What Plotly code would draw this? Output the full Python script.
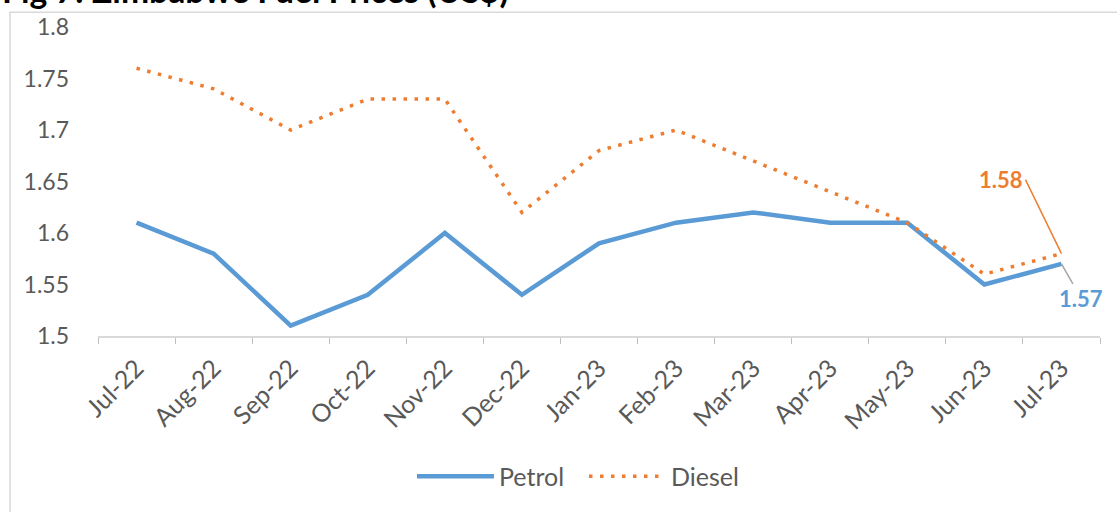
import plotly.graph_objects as go

months = ["Jul-22", "Aug-22", "Sep-22", "Oct-22", "Nov-22", "Dec-22", "Jan-23",
          "Feb-23", "Mar-23", "Apr-23", "May-23", "Jun-23", "Jul-23"]
petrol = [1.61, 1.58, 1.51, 1.54, 1.60, 1.54, 1.59, 1.61, 1.62, 1.61, 1.61, 1.55, 1.57]
diesel = [1.76, 1.74, 1.70, 1.73, 1.73, 1.62, 1.68, 1.70, 1.67, 1.64, 1.61, 1.56, 1.58]
y_ticks = [1.5, 1.55, 1.6, 1.65, 1.7, 1.75, 1.8]
y_tick_text = ["1.5", "1.55", "1.6", "1.65", "1.7", "1.75", "1.8"]
title_text = "Fig 7: Zimbabwe Fuel Prices (US$)"

BLUE = "#5B9BD5"
ORANGE = "#ED7D31"
FONT = "Lato"

fig = go.Figure()
fig.add_trace(go.Scatter(x=months, y=petrol, name="Petrol", mode="lines",
                         line=dict(color=BLUE, width=4.5)))
fig.add_trace(go.Scatter(x=months, y=diesel, name="Diesel", mode="lines",
                         line=dict(color=ORANGE, width=3.5, dash="3.5px,7.5px")))

# data labels with leader lines
fig.add_annotation(x=months[-1], y=diesel[-1], text="<b>1.58</b>", showarrow=True,
                   arrowhead=0, arrowwidth=1.5, arrowcolor=ORANGE, ax=-36, ay=-74,
                   font=dict(family=FONT, size=22, color=ORANGE), xanchor="right")
fig.add_annotation(x=months[-1], y=petrol[-1], text="<b>1.57</b>", showarrow=True,
                   arrowhead=0, arrowwidth=1.5, arrowcolor="#A5A5A5", ax=20, ay=35,
                   font=dict(family=FONT, size=22, color=BLUE), xanchor="center")

# clipped title at top
fig.add_annotation(x=-0.098, y=1.048, xref="paper", yref="paper", text="<b>" + title_text + "</b>",
                   showarrow=False, xanchor="left", yanchor="bottom",
                   font=dict(family=FONT, size=33.7, color="#000000"))

# chart area border
fig.add_shape(type="rect", xref="paper", yref="paper", x0=-0.0878, x1=1.03, y0=-0.6, y1=1.048,
              line=dict(color="#D9D9D9", width=1.5), fillcolor="rgba(0,0,0,0)", layer="below")

fig.update_layout(
    width=1117, height=512,
    margin=dict(l=98, r=17, t=27, b=173),
    paper_bgcolor="white", plot_bgcolor="white",
    font=dict(family=FONT, size=23, color="#595959"),
    showlegend=True,
    legend=dict(orientation="h", x=0.485, xanchor="center", y=-0.455, yanchor="middle",
                font=dict(size=25, color="#595959"), itemwidth=77, entrywidth=80,
                tracegroupgap=0),
    xaxis=dict(type="category", range=[-0.5, 12.5], showgrid=False, showline=True,
               linecolor="#D9D9D9", linewidth=1.5, ticks="outside", ticklen=6,
               tickcolor="#BFBFBF", tickson="boundaries", tickangle=-45,
               ticklabelstandoff=6, tickfont=dict(size=25, color="#595959")),
    yaxis=dict(range=[1.5, 1.8], tickvals=y_ticks, ticktext=y_tick_text, showgrid=False,
               showline=False, zeroline=False, ticks="", ticklabelstandoff=28,
               tickfont=dict(size=23, color="#595959")),
)

fig.write_html("out.html", config={"displayModeBar": False},
               post_script="document.body.style.margin='0';")
